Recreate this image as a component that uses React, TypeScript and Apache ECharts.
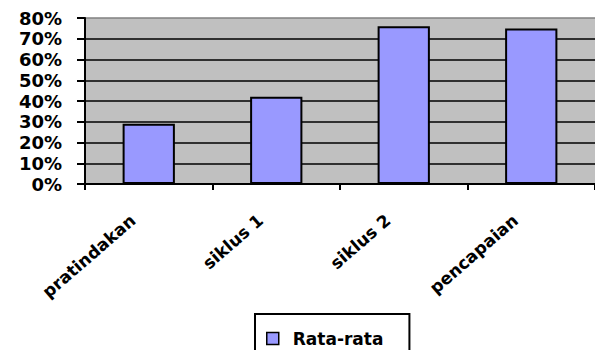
import React, { useEffect, useRef } from "react";
import * as echarts from "echarts";

const categories = ["pratindakan", "siklus 1", "siklus 2", "pencapaian"];
const rataRata = [29, 42, 76, 75];
const seriesName = "Rata-rata";

export default function App() {
  const ref = useRef<HTMLDivElement>(null);
  useEffect(() => {
    document.body.style.margin = "0";
    const chart = echarts.init(ref.current!, null, { renderer: "svg" });
    const font = "'DejaVu Sans', Verdana, sans-serif";
    chart.setOption({
      animation: false,
      grid: {
        left: 85,
        top: 18,
        width: 516,
        height: 166,
        show: true,
        backgroundColor: "#c0c0c0",
        borderWidth: 0,
      },
      legend: {
        data: [seriesName],
        left: 255,
        top: 314,
        padding: [16, 26, 30, 11],
        borderColor: "#000",
        borderWidth: 2,
        icon: "rect",
        itemWidth: 12,
        itemHeight: 12,
        itemStyle: { color: "#9999ff", borderColor: "#000", borderWidth: 1.5 },
        textStyle: {
          fontFamily: font,
          fontWeight: "bold",
          fontSize: 17,
          color: "#000",
          padding: [0, 0, 0, 9],
        },
      },
      xAxis: {
        type: "category",
        data: categories,
        axisLine: { lineStyle: { color: "#000", width: 2 } },
        axisTick: { show: true, length: 6, lineStyle: { color: "#000", width: 2 } },
        axisLabel: {
          rotate: 41,
          margin: 20,
          padding: [0, 21, 0, 0],
          fontFamily: font,
          fontWeight: "bold",
          fontSize: 17,
          color: "#000",
          interval: 0,
        },
      },
      yAxis: {
        type: "value",
        min: 0,
        max: 80,
        interval: 10,
        axisLine: { show: true, lineStyle: { color: "#000", width: 2 } },
        axisTick: { show: true, length: 8, lineStyle: { color: "#000", width: 2 } },
        axisLabel: {
          formatter: "{value}%",
          margin: 23,
          fontFamily: font,
          fontWeight: "bold",
          fontSize: 18,
          color: "#000",
        },
        splitLine: {
          show: true,
          lineStyle: {
            color: ["#000", "#000", "#000", "#000", "#000", "#000", "#000", "#000", "#808080"],
            width: 1.5,
          },
        },
      },
      series: [
        {
          name: seriesName,
          type: "bar",
          data: rataRata,
          barWidth: "41%",
          itemStyle: { color: "#9999ff", borderColor: "#000", borderWidth: 2 },
        },
      ],
    });
    return () => chart.dispose();
  }, []);
  return <div ref={ref} style={{ width: 595, height: 350 }} />;
}
